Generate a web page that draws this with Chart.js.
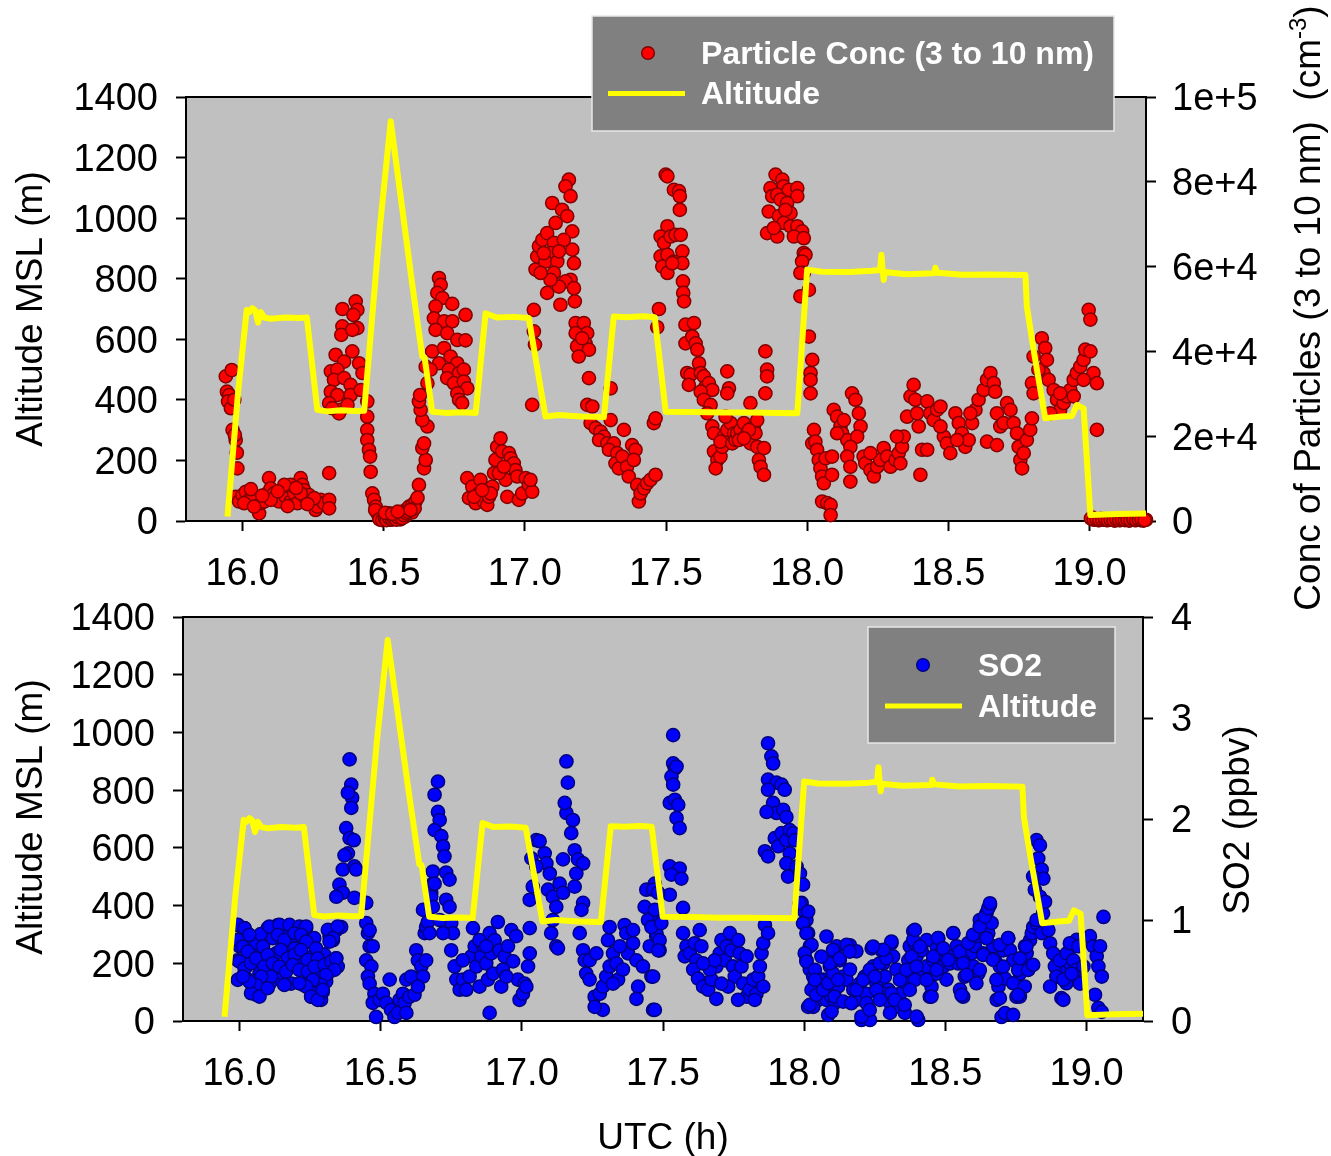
<!DOCTYPE html>
<html>
<head>
<meta charset="utf-8">
<script src="https://cdn.jsdelivr.net/npm/chart.js@4.4.1/dist/chart.umd.min.js"></script>
<style>
  body { margin: 0; background: #fff; }
  #wrap { position: relative; width: 1331px; height: 1156px; }
  canvas { position: absolute; left: 0; }
  #topPanel { top: 0; }
  #bottomPanel { top: 590px; }
</style>
</head>
<body>
<div id="wrap">
  <canvas id="topPanel" width="1331" height="620"></canvas>
  <canvas id="bottomPanel" width="1331" height="566"></canvas>
</div>
<script>
// tick positions
const hourTicks = [16.0, 16.5, 17.0, 17.5, 18.0, 18.5, 19.0];
const altitudeTicks = [0, 200, 400, 600, 800, 1000, 1200, 1400];
const particleTicks = [0, 20000, 40000, 60000, 80000, 100000];
const so2Ticks = [0, 1, 2, 3, 4];

// aircraft altitude, [UTC h, m MSL]
const altitude = [
  [15.947, 15], [15.985, 430], [16.015, 697], [16.024, 690], [16.035, 703], [16.045, 695],
  [16.055, 655], [16.065, 690], [16.077, 672], [16.1, 668], [16.15, 672], [16.2, 670],
  [16.228, 672], [16.265, 367], [16.3, 362], [16.35, 366], [16.4, 363], [16.431, 364],
  [16.487, 973], [16.525, 1320], [16.6, 790], [16.637, 543], [16.645, 540], [16.672, 361],
  [16.72, 357], [16.78, 359], [16.826, 357], [16.861, 686], [16.9, 672], [16.96, 674],
  [17.014, 670], [17.073, 345], [17.12, 350], [17.2, 345], [17.28, 343], [17.315, 675],
  [17.36, 673], [17.42, 676], [17.46, 673], [17.499, 361], [17.6, 360], [17.7, 358],
  [17.8, 358], [17.9, 357], [17.965, 356], [18.0, 830], [18.05, 823], [18.15, 822],
  [18.23, 826], [18.258, 829], [18.263, 879], [18.267, 830], [18.271, 796], [18.275, 822],
  [18.35, 815], [18.45, 818], [18.454, 836], [18.46, 820], [18.55, 813], [18.65, 814],
  [18.773, 812], [18.778, 708], [18.802, 565], [18.843, 339], [18.9, 345], [18.938, 347],
  [18.955, 383], [18.979, 372], [19.003, 20], [19.1, 23], [19.2, 25]
];

// particle concentration 3-10 nm, [UTC h, cm^-3]
const particleConc = [
  [15.941, 34100], [15.962, 35600], [15.945, 30500], [15.953, 29700], [15.949, 28200], [15.959, 26600],
  [15.971, 28600], [15.965, 21500], [15.976, 19100], [15.973, 20300], [15.980, 16100], [15.982, 12400],
  [15.976, 5700], [15.988, 4600], [16.0, 6100], [16.012, 6900], [16.024, 5000], [16.035, 5400],
  [16.047, 3400], [16.059, 1800], [16.065, 4200], [16.077, 4600], [16.088, 6500], [16.094, 10100],
  [16.1, 7700], [16.112, 6500], [16.118, 5000], [16.13, 4600], [16.142, 7300], [16.153, 5700],
  [16.165, 8100], [16.171, 4600], [16.183, 6500], [16.195, 4200], [16.206, 10100], [16.212, 8500],
  [16.218, 7300], [16.224, 5400], [16.236, 6100], [16.248, 4200], [16.259, 2600], [16.265, 3400],
  [16.277, 5000], [16.289, 4200], [16.307, 11300], [16.307, 5000], [16.307, 3000], [16.171, 8500],
  [16.148, 8500], [16.006, 4200], [16.041, 3400], [16.1, 5000], [16.206, 6500], [16.254, 5400],
  [16.03, 7500], [16.07, 6000], [16.125, 7000], [16.19, 7800], [16.23, 4000], [16.16, 3500],
  [16.354, 50000], [16.354, 45900], [16.350, 43900], [16.401, 51800], [16.407, 49800], [16.393, 48600],
  [16.407, 45500], [16.389, 45100], [16.33, 39200], [16.389, 40000], [16.36, 37600], [16.313, 35300],
  [16.336, 35700], [16.413, 37200], [16.425, 34900], [16.324, 33300], [16.36, 33700], [16.383, 32100],
  [16.313, 30500], [16.336, 29700], [16.383, 29700], [16.307, 27800], [16.348, 26200], [16.372, 27400],
  [16.419, 30900], [16.442, 28200], [16.342, 25400], [16.318, 26600],
  [16.442, 24600], [16.442, 21500], [16.442, 19100], [16.448, 16800], [16.452, 15200], [16.454, 11600],
  [16.46, 6500], [16.466, 5000], [16.472, 3400], [16.478, 1800], [16.484, 1000], [16.495, 600],
  [16.507, 1400], [16.519, 1800], [16.531, 1000], [16.543, 1400], [16.554, 1000], [16.566, 1800],
  [16.578, 2600], [16.59, 3400], [16.602, 3800], [16.613, 4600], [16.625, 8500], [16.643, 12400],
  [16.649, 14400], [16.637, 17200], [16.643, 18300], [16.655, 22300], [16.637, 23800], [16.631, 26200],
  [16.625, 28200], [16.629, 29700], [16.655, 32500], [16.649, 36400],
  [16.49, 300], [16.5, 800], [16.515, 500], [16.525, 300], [16.54, 600], [16.56, 400],
  [16.575, 1000], [16.47, 2600], [16.6, 2000], [16.61, 3000], [16.62, 5500],
  [16.485, 400], [16.495, 200], [16.505, 600], [16.51, 200], [16.52, 700], [16.53, 400],
  [16.535, 800], [16.545, 300], [16.55, 900], [16.565, 700], [16.57, 1400], [16.58, 1800],
  [16.585, 2200], [16.595, 2600], [16.505, 1900], [16.53, 1700], [16.55, 2200],
  [16.696, 57300], [16.702, 55700], [16.69, 53800], [16.708, 52600], [16.684, 50600], [16.743, 51200],
  [16.79, 48600], [16.678, 47800], [16.714, 47100], [16.743, 47100], [16.684, 45100], [16.725, 44300],
  [16.761, 42700], [16.79, 42600], [16.672, 40000], [16.714, 40800], [16.737, 38800], [16.696, 37200],
  [16.761, 37200], [16.731, 35700], [16.666, 35700], [16.767, 34900], [16.784, 35700], [16.725, 33700],
  [16.749, 32500], [16.784, 32900], [16.796, 31300], [16.761, 30100], [16.767, 28600], [16.778, 27800],
  [16.796, 10100], [16.802, 5400], [16.814, 8100], [16.826, 4200], [16.837, 6500], [16.843, 9700],
  [16.855, 4600], [16.867, 3800], [16.873, 5700], [16.885, 8100], [16.891, 11300], [16.896, 14400],
  [16.902, 17500], [16.914, 19500], [16.92, 16400], [16.932, 9700], [16.938, 5700], [16.944, 16000],
  [16.95, 14800], [16.961, 13600], [16.967, 12000], [16.973, 10500], [16.979, 5000], [16.991, 6500],
  [17.003, 10100], [17.014, 8500], [17.026, 6900], [17.02, 9700], [16.879, 6500], [16.908, 11300],
  [16.926, 12800], [16.82, 5700], [16.849, 7300],
  [17.032, 49800], [17.032, 44700], [17.036, 41600], [17.026, 27400], [17.038, 59300], [17.044, 62400],
  [17.05, 64800], [17.062, 66300], [17.079, 67900], [17.097, 75000], [17.109, 70300], [17.103, 65600],
  [17.091, 63200], [17.073, 61200], [17.115, 61200], [17.132, 73400], [17.15, 71900], [17.156, 80500],
  [17.144, 78900], [17.162, 76600], [17.168, 68300], [17.168, 64000], [17.174, 60800], [17.162, 56900],
  [17.144, 56500], [17.121, 55300], [17.079, 53800], [17.126, 51000], [17.174, 54900], [17.177, 51800],
  [17.138, 66300], [17.121, 63600], [17.103, 58500], [17.091, 56900], [17.067, 63200], [17.056, 58500],
  [17.18, 46700], [17.209, 46700], [17.221, 44300], [17.18, 44300], [17.215, 41900], [17.185, 41200],
  [17.227, 40400], [17.191, 38800], [17.203, 43100], [17.227, 33700], [17.221, 27400], [17.239, 27000],
  [17.233, 23100], [17.251, 21900], [17.268, 21100], [17.28, 19900], [17.263, 19100], [17.292, 18300],
  [17.304, 23800], [17.304, 31300], [17.315, 18300], [17.298, 16800], [17.327, 16000], [17.351, 21500],
  [17.321, 13600], [17.333, 12400], [17.345, 15200], [17.362, 12800], [17.38, 17900], [17.392, 16800],
  [17.386, 14400], [17.368, 10500], [17.398, 8500], [17.404, 4600], [17.41, 6500], [17.422, 7700],
  [17.433, 8900], [17.445, 9700], [17.463, 10900], [17.457, 23100], [17.463, 24200], [17.475, 50000],
  [17.469, 45700],
  [17.499, 81700], [17.505, 81300], [17.528, 78100], [17.546, 77800], [17.549, 76600], [17.549, 73400],
  [17.505, 69500], [17.481, 67100], [17.493, 65600], [17.516, 67100], [17.534, 67500], [17.552, 67500],
  [17.481, 62400], [17.505, 62800], [17.528, 61200], [17.558, 63600], [17.558, 60800], [17.487, 60000],
  [17.505, 58500], [17.522, 60800], [17.56, 56500], [17.561, 53800], [17.564, 51800],
  [17.569, 46300], [17.599, 46700], [17.569, 41900], [17.593, 43500], [17.605, 41900], [17.611, 40400],
  [17.575, 34900], [17.587, 34500], [17.581, 32100], [17.617, 37200], [17.623, 34900], [17.634, 34100],
  [17.64, 31700], [17.652, 32500], [17.664, 30900], [17.623, 30500], [17.634, 28600], [17.658, 27400],
  [17.646, 25400], [17.664, 22300], [17.67, 20700], [17.67, 16400], [17.682, 14400], [17.676, 12400],
  [17.693, 15200], [17.699, 17500], [17.705, 19900], [17.717, 21500], [17.729, 23100], [17.741, 20700],
  [17.717, 35300], [17.723, 31300], [17.717, 30100], [17.711, 24600], [17.693, 18700], [17.735, 18300],
  [17.746, 19100],
  [17.752, 20700], [17.764, 21500], [17.776, 23100], [17.788, 20700], [17.799, 27800], [17.799, 18300],
  [17.811, 22300], [17.817, 20700], [17.823, 17500], [17.829, 14400], [17.835, 12800], [17.847, 10900],
  [17.847, 17200], [17.852, 30100], [17.858, 35700], [17.858, 34100], [17.852, 40000], [17.823, 23800],
  [17.794, 21500], [17.758, 19100], [17.776, 19500],
  [17.888, 81700], [17.912, 80500], [17.917, 78900], [17.87, 78500], [17.876, 76600], [17.864, 73000],
  [17.858, 67900], [17.894, 77000], [17.935, 78100], [17.965, 78500], [17.965, 76600], [17.906, 75800],
  [17.929, 75000], [17.941, 72600], [17.9, 71900], [17.917, 70300], [17.941, 69500], [17.965, 69500],
  [17.982, 68300], [17.894, 67100], [17.953, 67100], [17.988, 66700], [17.882, 69100], [17.923, 73400],
  [17.988, 63200], [17.994, 62800], [17.982, 61200], [17.988, 58500], [17.976, 58500], [18.006, 54500],
  [17.976, 53000],
  [18.006, 43500], [18.018, 38000], [18.012, 34900], [18.012, 33300], [18.012, 30100], [18.024, 21500],
  [18.018, 18300], [18.029, 18700], [18.035, 16800], [18.041, 14400], [18.047, 12400], [18.053, 10500],
  [18.059, 8900], [18.053, 4600], [18.071, 4200], [18.083, 3800], [18.083, 1400], [18.088, 10900],
  [18.065, 14800], [18.088, 15200],
  [18.094, 26200], [18.106, 24600], [18.118, 22300], [18.13, 23800], [18.124, 20700], [18.142, 19100],
  [18.159, 30100], [18.171, 28600], [18.183, 25400], [18.189, 22300], [18.177, 19900], [18.153, 17500],
  [18.142, 15200], [18.153, 12800], [18.153, 9300], [18.2, 15200], [18.206, 13600], [18.224, 12000],
  [18.236, 10500], [18.248, 12800], [18.259, 14400], [18.271, 17200], [18.283, 15200], [18.295, 12800],
  [18.313, 14400], [18.324, 16000], [18.33, 13600], [18.336, 17500], [18.342, 19900], [18.354, 24600],
  [18.366, 29400], [18.377, 32100], [18.383, 28600], [18.389, 25400], [18.395, 22300], [18.407, 16800],
  [18.425, 16800], [18.401, 10900], [18.425, 28200], [18.436, 25400], [18.448, 23800], [18.46, 26200],
  [18.472, 27000], [18.484, 19900], [18.495, 18300], [18.507, 16000], [18.525, 25400], [18.537, 23100],
  [18.548, 20700], [18.56, 17500], [18.572, 19100], [18.584, 23100], [18.596, 26200], [18.607, 28600],
  [18.625, 30900], [18.637, 33300], [18.649, 34900], [18.661, 32500], [18.666, 30500], [18.672, 25400],
  [18.684, 22300], [18.696, 23100], [18.708, 27800], [18.72, 26200], [18.731, 23100], [18.743, 20700],
  [18.749, 17500], [18.755, 14400], [18.761, 12400], [18.767, 16000], [18.778, 19100], [18.79, 21500],
  [18.796, 24200], [18.637, 18700], [18.672, 17900], [18.578, 25400], [18.531, 19100], [18.472, 22300],
  [18.318, 19900], [18.224, 16000], [18.106, 20700],
  [18.802, 38800], [18.831, 43100], [18.843, 40800], [18.849, 38000], [18.796, 32500], [18.802, 30100],
  [18.837, 34900], [18.855, 33300], [18.873, 30900], [18.885, 28600], [18.896, 26200], [18.908, 27800],
  [18.92, 29400], [18.932, 30900], [18.944, 33300], [18.955, 34900], [18.967, 36400], [18.979, 38000],
  [18.985, 40400], [19.003, 40000], [19.014, 34900], [19.026, 32500], [18.997, 49800], [19.003, 47500],
  [19.026, 21500], [18.861, 25400], [18.896, 30100], [18.944, 29400], [18.979, 33300], [18.819, 35700],
  [19.01, 800], [19.02, 400], [19.03, 200], [19.04, 500], [19.05, 300], [19.06, 200],
  [19.07, 400], [19.08, 300], [19.09, 100], [19.1, 300], [19.11, 200], [19.12, 400],
  [19.13, 300], [19.14, 100], [19.15, 300], [19.16, 200], [19.17, 300], [19.18, 200],
  [19.19, 100], [19.2, 300],
  [19.005, 600], [19.015, 300], [19.025, 400], [19.035, 200], [19.045, 300], [19.055, 400],
  [19.065, 200], [19.075, 300], [19.085, 200], [19.095, 400], [19.105, 200], [19.115, 300],
  [19.125, 200], [19.135, 300], [19.145, 200], [19.155, 400], [19.165, 200], [19.175, 300],
  [19.185, 300], [19.195, 200]
];

// SO2 mixing ratio, [UTC h, ppbv]
const so2 = [
  [15.994, 0.95], [16.018, 0.92], [16.035, 0.85], [16.0, 0.74], [15.994, 0.60], [16.012, 0.44],
  [16.03, 0.41], [16.047, 0.34], [16.059, 0.26], [16.065, 0.67], [16.035, 0.59], [16.083, 0.74],
  [16.1, 0.92], [16.118, 0.82], [16.13, 0.67], [16.106, 0.57], [16.094, 0.47], [16.071, 0.47],
  [16.136, 0.95], [16.148, 0.87], [16.159, 0.77], [16.171, 0.92], [16.189, 0.84], [16.177, 0.67],
  [16.183, 0.37], [16.159, 0.36], [16.201, 0.54], [16.207, 0.70], [16.219, 0.90], [16.236, 0.92],
  [16.23, 0.77], [16.236, 0.60], [16.248, 0.44], [16.26, 0.34], [16.254, 0.24], [16.272, 0.70],
  [16.278, 0.57], [16.289, 0.21], [16.295, 0.29], [16.307, 0.39], [16.313, 0.47], [16.319, 0.84],
  [16.331, 0.80], [16.343, 0.62], [16.348, 0.54], [16.343, 0.90], [16.36, 0.93], [16.13, 0.42],
  [16.154, 0.47], [16.224, 0.36], [16.059, 0.77], [16.024, 0.54], [16.106, 0.37], [16.213, 0.57],
  [16.283, 0.47], [16.05, 0.62], [16.09, 0.66], [16.12, 0.52], [16.165, 0.55], [16.195, 0.72],
  [16.25, 0.63], [16.265, 0.82], [16.3, 0.66], [16.01, 0.83], [16.075, 0.86],
  [15.994, 0.951], [16.018, 0.918], [16.035, 0.852], [15.994, 0.803], [16.012, 0.737], [16.029, 0.687],
  [16.0, 0.589], [16.018, 0.522], [16.041, 0.572], [16.059, 0.621], [16.083, 0.737], [16.1, 0.654],
  [16.088, 0.539], [16.106, 0.935], [16.142, 0.951], [16.177, 0.951], [16.212, 0.935], [16.236, 0.935],
  [16.136, 0.852], [16.159, 0.803], [16.195, 0.869], [16.218, 0.852], [16.236, 0.786], [16.147, 0.704],
  [16.171, 0.621], [16.195, 0.654], [16.218, 0.704], [16.242, 0.605], [16.271, 0.72], [16.277, 0.621],
  [16.118, 0.572], [16.142, 0.539], [16.165, 0.49], [16.189, 0.556], [16.212, 0.506], [16.242, 0.49],
  [16.266, 0.539], [16.301, 0.556], [16.325, 0.589], [16.342, 0.621], [16.336, 0.506], [16.307, 0.457],
  [16.289, 0.358], [16.26, 0.407], [16.236, 0.341], [16.212, 0.374], [16.159, 0.358], [16.112, 0.44],
  [16.077, 0.44], [16.059, 0.358], [16.041, 0.275], [16.071, 0.242], [16.1, 0.325], [16.035, 0.391],
  [15.994, 0.407], [16.012, 0.44], [16.254, 0.242], [16.277, 0.209], [16.295, 0.308], [16.313, 0.902],
  [16.348, 0.935], [16.331, 0.82], [16.319, 0.786],
  [16.39, 2.59], [16.396, 2.34], [16.399, 2.21], [16.384, 2.26], [16.396, 2.11], [16.378, 1.91],
  [16.39, 1.81], [16.405, 1.79], [16.384, 1.66], [16.366, 1.50], [16.407, 1.53], [16.354, 1.35],
  [16.366, 1.27], [16.343, 1.23], [16.372, 1.64], [16.413, 1.50], [16.407, 1.22], [16.449, 1.17],
  [16.449, 0.97], [16.455, 0.87], [16.461, 0.74], [16.449, 0.60], [16.467, 0.54], [16.455, 0.44],
  [16.461, 0.37], [16.478, 0.27], [16.472, 0.18], [16.484, 0.04], [16.496, 0.21], [16.508, 0.27],
  [16.52, 0.18], [16.532, 0.41], [16.537, 0.11], [16.549, 0.04], [16.561, 0.08], [16.567, 0.21],
  [16.579, 0.27], [16.585, 0.18], [16.591, 0.08], [16.591, 0.41], [16.602, 0.24], [16.608, 0.44],
  [16.62, 0.26], [16.626, 0.70], [16.632, 0.60], [16.644, 0.54], [16.65, 0.44], [16.632, 0.34],
  [16.661, 0.60], [16.656, 0.87], [16.661, 0.93], [16.667, 0.98], [16.65, 1.10], [16.673, 0.87],
  [16.685, 1.36], [16.679, 1.27], [16.461, 0.90], [16.472, 0.74],
  [16.703, 2.37], [16.691, 2.24], [16.703, 2.07], [16.709, 1.99], [16.691, 1.89], [16.715, 1.83],
  [16.721, 1.73], [16.726, 1.63], [16.685, 1.48], [16.691, 1.36], [16.732, 1.47], [16.744, 1.40],
  [16.679, 1.23], [16.685, 1.13], [16.732, 1.20], [16.744, 1.13], [16.75, 0.97], [16.756, 0.87],
  [16.721, 0.87], [16.709, 1.00],
  [16.75, 0.70], [16.762, 0.54], [16.768, 0.41], [16.78, 0.31], [16.791, 0.41], [16.803, 0.31],
  [16.815, 0.44], [16.821, 0.64], [16.827, 0.92], [16.833, 0.74], [16.839, 0.54], [16.85, 0.34],
  [16.856, 0.64], [16.862, 0.75], [16.874, 0.57], [16.88, 0.41], [16.886, 0.87], [16.892, 0.67],
  [16.898, 0.47], [16.904, 0.80], [16.915, 0.98], [16.921, 0.70], [16.927, 0.34], [16.933, 0.51],
  [16.939, 0.64], [16.951, 0.74], [16.963, 0.90], [16.969, 0.59], [16.98, 0.84], [16.986, 0.41],
  [16.992, 0.21], [17.004, 0.27], [17.01, 0.37], [17.022, 0.54], [17.028, 0.67], [17.016, 0.34],
  [17.028, 0.92], [16.886, 0.08], [16.791, 0.60], [16.85, 0.80], [16.945, 0.44], [16.874, 0.74],
  [17.051, 1.79], [17.063, 1.78], [17.034, 1.61], [17.081, 1.66], [17.087, 1.56], [17.051, 1.53],
  [17.039, 1.33], [17.028, 1.20], [17.099, 1.46], [17.093, 1.30], [17.11, 1.23], [17.122, 1.13],
  [17.11, 1.00], [17.104, 0.87], [17.122, 0.74], [17.134, 1.36], [17.146, 1.27], [17.128, 0.72],
  [17.146, 1.60], [17.158, 2.06], [17.152, 2.16], [17.163, 2.36], [17.158, 2.57], [17.181, 1.99],
  [17.175, 1.86], [17.187, 1.69], [17.199, 1.60], [17.217, 1.56], [17.193, 1.46], [17.187, 1.33],
  [17.217, 1.17], [17.211, 1.10],
  [17.205, 0.87], [17.217, 0.70], [17.223, 0.60], [17.228, 0.47], [17.24, 0.41], [17.258, 0.24],
  [17.287, 0.11], [17.276, 0.27], [17.287, 0.34], [17.299, 0.44], [17.311, 0.54], [17.311, 0.93],
  [17.305, 0.80], [17.323, 0.67], [17.335, 0.57], [17.341, 0.41], [17.358, 0.51], [17.364, 0.95],
  [17.37, 0.87], [17.376, 0.67], [17.394, 0.77], [17.394, 0.90], [17.406, 0.60], [17.412, 0.34],
  [17.406, 0.22], [17.429, 0.54], [17.435, 1.13], [17.441, 1.30], [17.447, 1.00], [17.453, 0.74],
  [17.459, 0.44], [17.465, 0.11], [17.471, 1.36], [17.476, 0.84], [17.488, 1.00], [17.488, 0.70],
  [17.258, 0.14], [17.323, 0.37], [17.24, 0.60], [17.347, 0.74], [17.264, 0.67],
  [17.536, 2.83], [17.536, 2.55], [17.542, 2.50], [17.53, 2.42], [17.548, 2.52], [17.536, 2.34],
  [17.524, 2.16], [17.542, 2.19], [17.554, 2.14], [17.548, 2.01], [17.559, 1.91], [17.524, 1.53],
  [17.559, 1.51], [17.53, 1.45], [17.565, 1.41], [17.524, 1.25], [17.465, 1.30], [17.483, 1.27],
  [17.471, 1.10], [17.477, 0.87], [17.488, 0.80], [17.483, 0.70], [17.465, 0.44], [17.571, 1.12],
  [17.471, 0.11], [17.459, 0.93], [17.494, 0.97],
  [17.571, 0.87], [17.583, 0.74], [17.577, 0.64], [17.595, 0.67], [17.612, 0.77], [17.63, 0.90],
  [17.636, 0.74], [17.618, 0.60], [17.607, 0.51], [17.624, 0.42], [17.642, 0.34], [17.66, 0.31],
  [17.672, 0.41], [17.689, 0.22], [17.689, 0.54], [17.701, 0.67], [17.707, 0.80], [17.725, 0.74],
  [17.719, 0.60], [17.737, 0.87], [17.742, 0.70], [17.748, 0.54], [17.754, 0.44], [17.766, 0.80],
  [17.772, 0.67], [17.778, 0.54], [17.784, 0.37], [17.796, 0.24], [17.807, 0.31], [17.819, 0.41],
  [17.831, 0.27], [17.837, 0.44], [17.843, 0.54], [17.849, 0.67], [17.855, 0.77], [17.861, 0.95],
  [17.872, 0.87], [17.855, 0.34], [17.666, 0.51], [17.731, 0.34], [17.796, 0.64], [17.683, 0.60],
  [17.642, 0.57], [17.766, 0.21], [17.825, 0.21], [17.707, 0.37],
  [17.872, 2.75], [17.884, 2.62], [17.89, 2.55], [17.872, 2.39], [17.902, 2.36], [17.92, 2.34],
  [17.931, 2.29], [17.872, 2.29], [17.89, 2.16], [17.902, 2.06], [17.926, 2.09], [17.937, 2.02],
  [17.867, 2.07], [17.861, 1.68], [17.872, 1.63], [17.896, 1.81], [17.908, 1.73], [17.92, 1.86],
  [17.937, 1.79], [17.949, 1.89], [17.961, 1.86], [17.949, 1.66], [17.937, 1.56], [17.967, 1.79],
  [17.943, 1.43], [17.973, 1.53], [17.985, 1.46], [17.996, 1.35], [17.991, 1.17], [18.002, 1.08],
  [18.008, 1.00],
  [18.014, 0.87], [18.02, 0.74], [18.008, 0.60], [18.02, 0.51], [18.032, 0.44], [18.038, 0.37],
  [18.044, 0.31], [18.05, 0.21], [18.032, 0.14], [18.056, 0.27], [18.067, 0.41], [18.079, 0.21],
  [18.085, 0.06], [18.097, 0.24], [18.091, 0.54], [18.103, 0.67], [18.115, 0.74], [18.126, 0.60],
  [18.138, 0.44], [18.12, 0.34], [18.109, 0.18], [18.162, 0.75], [18.185, 0.69], [18.014, 0.14],
  [18.15, 0.41], [18.162, 0.51], [18.174, 0.31], [18.185, 0.21], [18.197, 0.37], [18.203, 0.01],
  [18.215, 0.44], [18.221, 0.27], [18.233, 0.01], [18.239, 0.72], [18.245, 0.54], [18.256, 0.37],
  [18.268, 0.24], [18.274, 0.70], [18.28, 0.57], [18.286, 0.44], [18.298, 0.31], [18.304, 0.18],
  [18.309, 0.77], [18.315, 0.64], [18.327, 0.51], [18.333, 0.14], [18.339, 0.27], [18.351, 0.41],
  [18.357, 0.08], [18.363, 0.37], [18.369, 0.60], [18.374, 0.74], [18.386, 0.89], [18.392, 0.77],
  [18.398, 0.64], [18.404, 0.01], [18.41, 0.51], [18.416, 0.70], [18.434, 0.54], [18.44, 0.41],
  [18.445, 0.24], [18.451, 0.34], [18.457, 0.60], [18.469, 0.74], [18.475, 0.82], [18.481, 0.67],
  [18.493, 0.54], [18.498, 0.70], [18.504, 0.41], [18.516, 0.57], [18.522, 0.64], [18.528, 0.87],
  [18.54, 0.74], [18.546, 0.57], [18.552, 0.31], [18.563, 0.24], [18.569, 0.44], [18.575, 0.60],
  [18.581, 0.77], [18.593, 0.67], [18.599, 0.54], [18.605, 0.74], [18.611, 0.84], [18.622, 1.00],
  [18.628, 0.87], [18.634, 0.67], [18.646, 1.07], [18.652, 0.87], [18.658, 1.15], [18.664, 0.97],
  [18.67, 0.74], [18.676, 0.60], [18.682, 0.21], [18.688, 0.34], [18.693, 0.54], [18.705, 0.70],
  [18.711, 0.42], [18.723, 0.82], [18.729, 0.70], [18.741, 0.60], [18.747, 0.37], [18.752, 0.24],
  [18.764, 0.47], [18.776, 0.57], [18.782, 0.74], [18.788, 0.67], [18.794, 0.51], [18.8, 0.80],
  [18.806, 0.87], [18.811, 0.93], [18.699, 0.04], [18.304, 0.08], [18.563, 0.60], [18.469, 0.47],
  [18.28, 0.27], [18.434, 0.80], [18.617, 0.47],
  [17.984, 1.166], [18.014, 1.084], [17.996, 0.968], [18.008, 0.869], [18.026, 0.753], [18.002, 0.671],
  [18.008, 0.588], [18.038, 0.506], [18.055, 0.407], [18.026, 0.308], [18.02, 0.16], [18.043, 0.258],
  [18.067, 0.308], [18.085, 0.374], [18.102, 0.473], [18.091, 0.572], [18.102, 0.704], [18.126, 0.621],
  [18.15, 0.753], [18.161, 0.687], [18.12, 0.407], [18.108, 0.242], [18.138, 0.192], [18.167, 0.176],
  [18.185, 0.308], [18.209, 0.407], [18.232, 0.506], [18.25, 0.44], [18.268, 0.572], [18.291, 0.621],
  [18.309, 0.787], [18.28, 0.704], [18.244, 0.737], [18.256, 0.308], [18.221, 0.176], [18.203, 0.044],
  [18.232, 0.11], [18.268, 0.209], [18.309, 0.275], [18.321, 0.209], [18.356, 0.16], [18.339, 0.407],
  [18.362, 0.506], [18.38, 0.638], [18.386, 0.803], [18.392, 0.902], [18.41, 0.737], [18.398, 0.539],
  [18.392, 0.407], [18.374, 0.308], [18.433, 0.407], [18.451, 0.242], [18.469, 0.506], [18.457, 0.638],
  [18.474, 0.82], [18.492, 0.72], [18.51, 0.605], [18.528, 0.869], [18.551, 0.687], [18.563, 0.572],
  [18.575, 0.457], [18.557, 0.258], [18.581, 0.77], [18.598, 0.852], [18.622, 0.935], [18.64, 1.034],
  [18.652, 1.116], [18.658, 1.166], [18.646, 0.82], [18.634, 0.654], [18.622, 0.506], [18.61, 0.374],
  [18.669, 0.605], [18.693, 0.753], [18.722, 0.82], [18.705, 0.539], [18.681, 0.407], [18.693, 0.226],
  [18.711, 0.077], [18.74, 0.374], [18.758, 0.506], [18.764, 0.621], [18.787, 0.737], [18.793, 0.506],
  [18.811, 0.556], [18.781, 0.341], [18.764, 0.242], [18.823, 0.968], [18.846, 1.067], [18.858, 0.935],
  [18.894, 0.638], [18.917, 0.506], [18.911, 0.226], [18.894, 0.44], [18.929, 0.374], [18.953, 0.737],
  [18.941, 0.572], [18.965, 0.44], [18.965, 0.803], [18.079, 0.836], [18.061, 0.638], [18.038, 0.407],
  [18.097, 0.093], [18.398, 0.044], [18.74, 0.06], [18.758, 0.258],
  [18.823, 1.79], [18.835, 1.74], [18.829, 1.61], [18.841, 1.50], [18.847, 1.41], [18.811, 1.43],
  [18.817, 1.30], [18.835, 1.23], [18.853, 1.18], [18.823, 1.00], [18.841, 0.87], [18.865, 0.90],
  [18.871, 0.77], [18.882, 0.67], [18.888, 0.54], [18.894, 0.44], [18.906, 0.60], [18.918, 0.41],
  [18.918, 0.21], [18.93, 0.67], [18.941, 0.77], [18.953, 0.60], [18.965, 0.51], [18.977, 0.37],
  [18.989, 0.54], [19.0, 0.80], [19.012, 0.84], [19.024, 0.74], [19.036, 0.64], [19.042, 0.54],
  [19.048, 0.74], [19.054, 0.44], [19.06, 1.03], [19.03, 0.26], [19.042, 0.13], [19.054, 0.09],
  [18.871, 0.34], [18.947, 0.47], [18.971, 0.74]
];

const FONT = "'Liberation Sans', Arial, Helvetica, sans-serif";
Chart.defaults.font.family = FONT;
Chart.defaults.color = '#000';

const toXY = pts => pts.map(([x, y]) => ({ x, y }));

function xAxis() {
  return {
    type: 'linear', position: 'bottom', min: 15.8, max: 19.2,
    afterBuildTicks: s => { s.ticks = hourTicks.map(v => ({ value: v })); },
    afterFit: s => { s.height = 80; s.paddingLeft = 0; s.paddingRight = 0; },
    grid: { drawOnChartArea: false, drawTicks: true, tickLength: 10, tickWidth: 2, tickColor: '#000' },
    border: { display: true, color: '#000', width: 2 },
    ticks: { font: { size: 38 }, padding: 21, maxRotation: 0, autoSkip: false, callback: v => v.toFixed(1) }
  };
}

function yAxis(position, max, ticks, width, pad, fmt) {
  return {
    type: 'linear', position, min: 0, max,
    afterBuildTicks: s => { s.ticks = ticks.map(v => ({ value: v })); },
    afterFit: s => { s.width = width; s.paddingTop = 0; s.paddingBottom = 0; },
    grid: { drawOnChartArea: false, drawTicks: true, tickLength: 10, tickWidth: 2, tickColor: '#000' },
    border: { display: true, color: '#000', width: 2 },
    ticks: { font: { size: 38 }, padding: pad, labelOffset: 3, autoSkip: false, callback: fmt }
  };
}

// vertical text reading bottom-to-top, parts may be raised (superscript)
function drawVertical(ctx, parts, cx, cy) {
  ctx.save();
  ctx.translate(cx, cy);
  ctx.rotate(-Math.PI / 2);
  let total = 0;
  for (const p of parts) { ctx.font = p.font; p.w = ctx.measureText(p.text).width; total += p.w; }
  let x = -total / 2;
  ctx.textAlign = 'left';
  ctx.textBaseline = 'alphabetic';
  ctx.fillStyle = '#000';
  for (const p of parts) { ctx.font = p.font; ctx.fillText(p.text, x, 13 - (p.rise || 0)); x += p.w; }
  ctx.restore();
}

function drawLegend(ctx, lg, marker) {
  ctx.save();
  ctx.fillStyle = '#808080';
  ctx.fillRect(lg.x, lg.y, lg.w, lg.h);
  ctx.strokeStyle = '#e6e6e6';
  ctx.lineWidth = 1.5;
  ctx.strokeRect(lg.x, lg.y, lg.w, lg.h);

  ctx.beginPath();
  ctx.arc(lg.dotX, lg.dotY, 6.3, 0, Math.PI * 2);
  ctx.fillStyle = marker.fill;
  ctx.fill();
  ctx.lineWidth = 1.5;
  ctx.strokeStyle = marker.edge;
  ctx.stroke();

  ctx.beginPath();
  ctx.moveTo(lg.lineX1, lg.lineY);
  ctx.lineTo(lg.lineX2, lg.lineY);
  ctx.strokeStyle = '#ffff00';
  ctx.lineWidth = 5;
  ctx.stroke();

  ctx.fillStyle = '#ffffff';
  ctx.font = 'bold 32px ' + FONT;
  ctx.textAlign = 'left';
  ctx.textBaseline = 'middle';
  ctx.fillText(marker.label, lg.textX, lg.dotY + 2);
  ctx.fillText('Altitude', lg.textX, lg.lineY + 2);
  ctx.restore();
}

function decor(cfg) {
  return {
    id: 'decor',
    beforeDraw(chart) {
      const { ctx, chartArea: a } = chart;
      ctx.save();
      ctx.fillStyle = '#c0c0c0';
      ctx.fillRect(a.left, a.top, a.right - a.left, a.bottom - a.top);
      ctx.restore();
    },
    beforeDatasetsDraw(chart) {
      const { ctx, chartArea: a } = chart;
      ctx.save();
      ctx.strokeStyle = '#000';
      ctx.lineWidth = 2;
      ctx.beginPath();
      ctx.moveTo(a.left - 1, a.top);
      ctx.lineTo(a.right + 1, a.top);
      ctx.stroke();
      ctx.restore();
    },
    afterDraw(chart) {
      const ctx = chart.ctx;
      const f = '37px ' + FONT;
      drawVertical(ctx, [{ text: 'Altitude MSL (m)', font: f }], 29, cfg.leftTitleY);
      drawVertical(ctx, cfg.rightTitle, cfg.rightTitleX, cfg.rightTitleY);
      if (cfg.bottomTitle) {
        ctx.save();
        ctx.font = f;
        ctx.fillStyle = '#000';
        ctx.textAlign = 'center';
        ctx.textBaseline = 'alphabetic';
        ctx.fillText(cfg.bottomTitle.text, cfg.bottomTitle.x, cfg.bottomTitle.y);
        ctx.restore();
      }
      drawLegend(ctx, cfg.legend, cfg.marker);
    }
  };
}

function makePanel(canvas, cfg) {
  return new Chart(canvas, {
    type: 'scatter',
    data: {
      datasets: [
        {
          label: cfg.marker.label,
          data: toXY(cfg.points),
          yAxisID: 'yR',
          pointRadius: 6.6,
          pointBorderWidth: 1.5,
          backgroundColor: cfg.marker.fill,
          borderColor: cfg.marker.edge,
          clip: false,
          order: 1
        },
        {
          label: 'Altitude',
          data: toXY(altitude),
          yAxisID: 'yL',
          showLine: true,
          borderColor: '#ffff00',
          borderWidth: 6,
          borderJoinStyle: 'round',
          pointRadius: 0,
          tension: 0,
          order: 0
        }
      ]
    },
    options: {
      responsive: false,
      animation: false,
      devicePixelRatio: 1,
      events: [],
      layout: { padding: cfg.padding },
      plugins: { legend: { display: false }, tooltip: { enabled: false } },
      scales: {
        x: xAxis(),
        yL: yAxis('left', 1400, altitudeTicks, cfg.leftW, 18, v => String(v)),
        yR: yAxis('right', cfg.rightMax, cfg.rightTicks, cfg.rightW, cfg.rightPad, cfg.rightFmt)
      }
    },
    plugins: [decor(cfg)]
  });
}

makePanel(document.getElementById('topPanel'), {
  points: particleConc,
  marker: { label: 'Particle Conc (3 to 10 nm)', fill: '#ff0000', edge: '#800000' },
  padding: { top: 97, bottom: 19, left: 0, right: 0 },
  leftW: 186, rightW: 185, rightPad: 16,
  rightMax: 100000, rightTicks: particleTicks,
  rightFmt: v => (v === 0 ? '0' : v.toExponential(0)),
  leftTitleY: 309,
  rightTitle: [
    { text: 'Conc of Particles (3 to 10 nm)  (cm', font: '37px ' + FONT },
    { text: '-3', font: '24px ' + FONT, rise: 14 },
    { text: ')', font: '37px ' + FONT }
  ],
  rightTitleX: 1307, rightTitleY: 308,
  legend: { x: 592, y: 16, w: 522, h: 115, dotX: 648, dotY: 53, lineX1: 608, lineX2: 685, lineY: 93.5, textX: 701 }
});

makePanel(document.getElementById('bottomPanel'), {
  points: so2,
  marker: { label: 'SO2', fill: '#0000ff', edge: '#000080' },
  padding: { top: 27, bottom: 55, left: 0, right: 0 },
  leftW: 183, rightW: 188, rightPad: 18,
  rightMax: 4, rightTicks: so2Ticks,
  rightFmt: v => String(v),
  leftTitleY: 227,
  rightTitle: [{ text: 'SO2 (ppbv)', font: '37px ' + FONT }],
  rightTitleX: 1236, rightTitleY: 230,
  bottomTitle: { text: 'UTC (h)', x: 663, y: 559 },
  legend: { x: 868, y: 37, w: 247, h: 116, dotX: 923, dotY: 75, lineX1: 885, lineX2: 962, lineY: 116, textX: 978 }
});
</script>
</body>
</html>
